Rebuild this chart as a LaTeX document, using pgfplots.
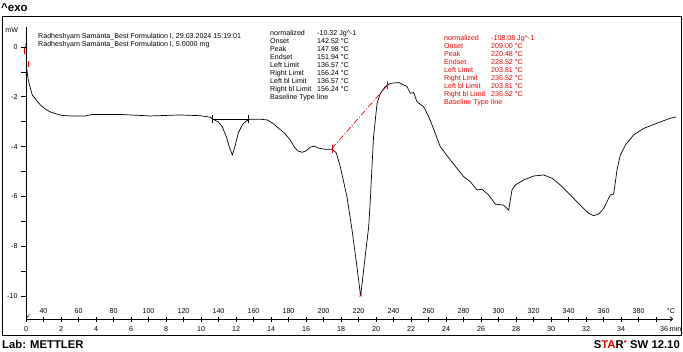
\documentclass[border=0pt]{standalone}
\usepackage{pgfplots}
\pgfplotsset{compat=1.18}
\usepackage{fontspec}
\setmainfont{Liberation Sans}
\usetikzlibrary{arrows.meta}
\newcommand\sm{\fontsize{7.1bp}{8bp}\selectfont}
\definecolor{mred}{RGB}{230,0,0}
\begin{document}
\begin{tikzpicture}
\useasboundingbox (0,0) rectangle (683bp,-352bp);
\draw[line width=0.9bp] (2bp,-16bp) rectangle (681bp,-335bp);
\node[anchor=base west,inner sep=0,font=\fontsize{11.5bp}{12bp}\selectfont\bfseries] at (1bp,-11bp) {\textasciicircum exo};
\node[anchor=base west,inner sep=0,font=\fontsize{11.3bp}{12bp}\selectfont\bfseries] at (2bp,-348.5bp) {Lab: METTLER};
\node[anchor=base east,inner sep=0,font=\fontsize{11.3bp}{12bp}\selectfont\bfseries] at (680bp,-348.5bp) {S\textcolor{mred}{TA}R\textsuperscript{\textcolor{mred}{\textbullet}} SW 12.10};
\node[anchor=north west,inner sep=0,align=left,font=\sm] at (38bp,-33bp) {Radheshyam Samanta\_Best Formulation I, 29.03.2024 15:19:01\\Radheshyam Samanta\_Best Formulation I, 5.0000 mg};
\node[anchor=north west,inner sep=0,align=left,font=\sm] at (270bp,-30bp) {normalized\\Onset\\Peak\\Endset\\Left Limit\\Right Limit\\Left bl Limit\\Right bl Limit\\Baseline Type};
\node[anchor=north west,inner sep=0,align=left,font=\sm] at (317bp,-30bp) {-10.32 Jg\textasciicircum-1\\142.52 °C\\147.98 °C\\151.94 °C\\136.57 °C\\156.24 °C\\136.57 °C\\156.24 °C\\line};
\node[anchor=north west,inner sep=0,align=left,font=\sm,text=mred] at (444bp,-35bp) {normalized\\Onset\\Peak\\Endset\\Left Limit\\Right Limit\\Left bl Limit\\Right bl Limit\\Baseline Type};
\node[anchor=north west,inner sep=0,align=left,font=\sm,text=mred] at (491bp,-35bp) {-108.08 Jg\textasciicircum-1\\209.00 °C\\220.48 °C\\228.52 °C\\203.81 °C\\236.52 °C\\203.81 °C\\236.52 °C\\line};
\begin{axis}[
  at={(26bp,-319bp)}, anchor=south west,
  scale only axis, width=647bp, height=292bp,
  xmin=0, xmax=36.97, ymin=-10.92, ymax=0.8,
  axis x line=bottom, axis y line=left,
  x axis line style={-{To[length=3bp,width=5bp]}, line width=0.8bp},
  y axis line style={-, line width=0.8bp},
  xtick={0,2,...,36},
  xticklabels={0,2,4,6,8,10,12,14,16,18,20,22,24,26,28,30,32,34,{}},
  minor xtick={1,3,...,35},
  ytick={-10,-8,...,0},
  yticklabels={-10,-8,-6,-4,-2,0},
  minor ytick={-9,-7,-5,-3,-1},
  xtick align=center, ytick align=outside,
  major tick length=5bp, minor tick length=5bp,
  every tick/.style={black, line width=0.6bp},
  tick label style={font=\sm},
  x tick label style={yshift=-1.5bp},
  clip=false,
]
\addplot[black, line width=0.7bp] coordinates {
(0,0.15) (0.02,-0.32) (0.05,-0.92) (0.13,-1.33) (0.25,-1.65) (0.36,-1.93) (0.59,-2.13) (0.82,-2.33) (1.10,-2.49) (1.39,-2.61) (1.73,-2.69) (2.07,-2.75) (2.53,-2.77) (3.39,-2.77) (3.79,-2.71) (5.39,-2.71) (7.10,-2.77) (8.82,-2.73) (9.96,-2.76) (10.53,-2.82) (10.70,-2.91) (10.99,-3.01) (11.22,-3.21) (11.45,-3.61) (11.62,-4.02) (11.79,-4.34) (11.96,-3.94) (12.13,-3.45) (12.36,-3.13) (12.59,-2.97) (12.82,-2.90) (13.39,-2.90) (13.79,-2.93) (14.07,-3.05) (14.41,-3.25) (14.76,-3.45) (15.10,-3.73) (15.33,-4.02) (15.56,-4.18) (15.79,-4.23) (16.02,-4.16) (16.25,-4.02) (16.47,-3.98) (16.70,-4.06) (17.10,-4.11) (17.50,-4.11) (17.73,-4.25) (17.96,-4.81) (18.34,-6.01) (18.63,-7.35) (18.91,-8.82) (19.10,-9.89) (19.13,-9.96) (19.29,-8.96) (19.58,-7.22) (19.67,-6.21) (19.77,-4.81) (19.86,-3.60) (20.06,-2.26) (20.25,-1.86) (20.53,-1.59) (20.81,-1.46) (21.30,-1.43) (21.77,-1.59) (21.96,-1.86) (22.15,-1.83) (22.34,-2.20) (22.72,-2.40) (23.01,-2.80) (23.20,-3.13) (23.67,-4.00) (24.25,-4.54) (25.01,-5.21) (25.39,-5.41) (25.77,-5.74) (26.06,-5.71) (26.43,-5.94) (26.82,-6.31) (27.29,-6.35) (27.58,-6.55) (27.77,-5.74) (27.96,-5.54) (28.43,-5.34) (29.01,-5.18) (29.58,-5.14) (30.06,-5.27) (30.53,-5.54) (31.10,-5.94) (31.67,-6.35) (32.15,-6.68) (32.43,-6.77) (32.72,-6.71) (33.01,-6.48) (33.29,-6.08) (33.39,-5.94) (33.58,-5.90) (33.77,-4.94) (33.96,-4.34) (34.25,-3.94) (34.72,-3.53) (35.29,-3.27) (36.06,-3.06) (36.82,-2.86) (37.15,-2.81)
};
% first peak baseline
\addplot[black, line width=0.7bp] coordinates {(10.66,-2.90) (12.69,-2.90)};
\addplot[black, line width=0.7bp] coordinates {(10.66,-2.74) (10.66,-3.06)};
\addplot[black, line width=0.7bp] coordinates {(12.69,-2.74) (12.69,-3.06)};
% second peak baseline
\addplot[mred, line width=0.7bp, dash pattern=on 6bp off 2bp on 1bp off 2bp] coordinates {(17.49,-4.07) (20.66,-1.53)};
\addplot[mred, line width=0.9bp] coordinates {(17.49,-3.95) (17.49,-4.25)};
\addplot[mred, line width=0.9bp] coordinates {(20.66,-1.38) (20.66,-1.68)};
\addplot[mred, only marks, mark=x, mark size=2bp] coordinates {(19.13,-9.96)};
\addplot[mred, line width=1.2bp] coordinates {(-0.07,-0.05) (-0.07,-0.30)};
\addplot[mred, line width=1.2bp] coordinates {(0.13,-0.55) (0.13,-0.80)};
\addplot[black, line width=0.6bp] coordinates {(0.06,-10.86) (0.2,-10.74)};
\node[anchor=east,inner sep=0,font=\sm] at (axis cs:-0.44,0.68) {mW};
\node[anchor=west,inner sep=0,font=\sm] at (axis cs:36.22,-11.30) {36 min};
\node[inner sep=0,font=\sm] at (axis cs:36.85,-10.59) {°C};
\node[inner sep=0,font=\sm] at (axis cs:1,-10.59) {40};
\node[inner sep=0,font=\sm] at (axis cs:3,-10.59) {60};
\node[inner sep=0,font=\sm] at (axis cs:5,-10.59) {80};
\node[inner sep=0,font=\sm] at (axis cs:7,-10.59) {100};
\node[inner sep=0,font=\sm] at (axis cs:9,-10.59) {120};
\node[inner sep=0,font=\sm] at (axis cs:11,-10.59) {140};
\node[inner sep=0,font=\sm] at (axis cs:13,-10.59) {160};
\node[inner sep=0,font=\sm] at (axis cs:15,-10.59) {180};
\node[inner sep=0,font=\sm] at (axis cs:17,-10.59) {200};
\node[inner sep=0,font=\sm] at (axis cs:19,-10.59) {220};
\node[inner sep=0,font=\sm] at (axis cs:21,-10.59) {240};
\node[inner sep=0,font=\sm] at (axis cs:23,-10.59) {260};
\node[inner sep=0,font=\sm] at (axis cs:25,-10.59) {280};
\node[inner sep=0,font=\sm] at (axis cs:27,-10.59) {300};
\node[inner sep=0,font=\sm] at (axis cs:29,-10.59) {320};
\node[inner sep=0,font=\sm] at (axis cs:31,-10.59) {340};
\node[inner sep=0,font=\sm] at (axis cs:33,-10.59) {360};
\node[inner sep=0,font=\sm] at (axis cs:35,-10.59) {380};
\end{axis}
\end{tikzpicture}
\end{document}
